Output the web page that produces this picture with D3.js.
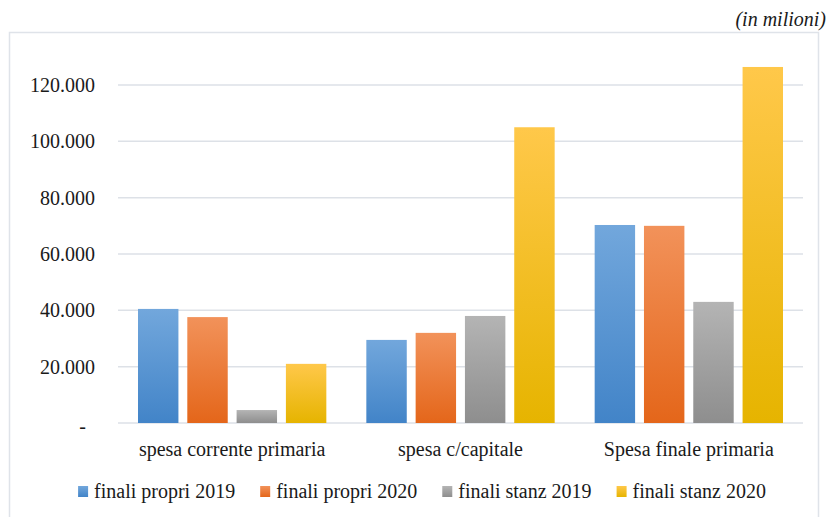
<!DOCTYPE html>
<html>
<head>
<meta charset="utf-8">
<script src="https://cdn.jsdelivr.net/npm/d3@7"></script>
<style>
  body { margin: 0; background: #fff; }
</style>
</head>
<body>
<div id="chart"></div>
<script>
// categorie e serie (valori in milioni)
var categorie = ["spesa corrente primaria", "spesa c/capitale", "Spesa finale primaria"];
var serie = ["finali propri 2019", "finali propri 2020", "finali stanz 2019", "finali stanz 2020"];
var propri2019 = [40500, 29500, 70300];
var propri2020 = [37600, 32000, 70000];
var stanz2019 = [4600, 38000, 43000];
var stanz2020 = [21000, 105000, 126400];
var yTicks = [0, 20000, 40000, 60000, 80000, 100000, 120000];

var valori = [propri2019, propri2020, stanz2019, stanz2020];
var colori = [
  ["#72a7dc", "#4284c8"],
  ["#f2925a", "#e4661a"],
  ["#b4b4b4", "#8e8e8e"],
  ["#ffc84a", "#e6b400"]
];

var FONT = "'Liberation Serif', 'Times New Roman', Times, 'DejaVu Serif', serif";

var width = 829, height = 517;
var margin = {top: 85, right: 26, bottom: 94, left: 118};

var svg = d3.select("#chart").append("svg")
  .attr("width", width)
  .attr("height", height)
  .style("font-family", FONT);

var defs = svg.append("defs");
colori.forEach(function(c, i) {
  var g = defs.append("linearGradient")
    .attr("id", "grad" + i)
    .attr("x1", 0).attr("y1", 0).attr("x2", 0).attr("y2", 1);
  g.append("stop").attr("offset", "0%").attr("stop-color", c[0]);
  g.append("stop").attr("offset", "100%").attr("stop-color", c[1]);
});

// cornice
svg.append("rect")
  .attr("x", 9.5).attr("y", 32.5)
  .attr("width", 809).attr("height", 500)
  .attr("fill", "none")
  .attr("stroke", "#dfe3e9")
  .attr("stroke-width", 1.5);

svg.append("text")
  .attr("x", 826).attr("y", 26)
  .attr("text-anchor", "end")
  .style("font-family", FONT)
  .style("font-style", "italic")
  .style("font-size", "20px")
  .attr("fill", "#1a1a1a")
  .text("(in milioni)");

var x0 = d3.scaleBand()
  .domain(categorie)
  .range([margin.left, width - margin.right]);

var x1 = d3.scaleBand()
  .domain(d3.range(serie.length))
  .range([20, x0.bandwidth() - 20])
  .paddingInner(0.18);

var y = d3.scaleLinear()
  .domain([0, 120000])
  .range([height - margin.bottom, margin.top]);

var loc = d3.formatLocale({decimal: ",", thousands: ".", grouping: [3], currency: ["", ""]});
var fmt = loc.format(",.0f");

// griglia
svg.append("g")
  .selectAll("line")
  .data(yTicks)
  .join("line")
    .attr("x1", margin.left)
    .attr("x2", width - margin.right)
    .attr("y1", function(d) { return y(d); })
    .attr("y2", function(d) { return y(d); })
    .attr("stroke", "#dde1e7")
    .attr("stroke-width", 1.5);

// asse y
var yAxis = svg.append("g")
  .attr("transform", "translate(95,0)")
  .call(d3.axisLeft(y).tickValues(yTicks).tickSize(0).tickPadding(0)
    .tickFormat(function(d) { return d === 0 ? "-" : fmt(d); }));
yAxis.attr("font-family", null).attr("font-size", null);
yAxis.select(".domain").remove();
yAxis.selectAll("text")
  .style("font-family", FONT)
  .style("font-size", "20px")
  .attr("fill", "#1a1a1a")
  .attr("dx", function(d) { return d === 0 ? "-9" : "0"; })
  .attr("dy", function(d) { return d === 0 ? "0.45em" : "0.33em"; });

// barre
var gruppi = svg.append("g")
  .selectAll("g")
  .data(categorie)
  .join("g")
    .attr("transform", function(d) { return "translate(" + x0(d) + ",0)"; });

gruppi.selectAll("rect")
  .data(function(d, ci) { return valori.map(function(v, si) { return {s: si, v: v[ci]}; }); })
  .join("rect")
    .attr("x", function(d) { return x1(d.s); })
    .attr("y", function(d) { return y(d.v); })
    .attr("width", x1.bandwidth())
    .attr("height", function(d) { return y(0) - y(d.v); })
    .attr("fill", function(d) { return "url(#grad" + d.s + ")"; });

// etichette categorie
svg.append("g")
  .selectAll("text")
  .data(categorie)
  .join("text")
    .attr("x", function(d) { return x0(d) + x0.bandwidth() / 2; })
    .attr("y", 456)
    .attr("text-anchor", "middle")
    .attr("fill", "#1a1a1a")
    .style("font-family", FONT)
    .style("font-size", "20px")
    .text(function(d) { return d; });

// legenda
var legenda = svg.append("g");
var items = legenda.selectAll("g")
  .data(serie)
  .join("g");
items.append("rect")
  .attr("y", 486)
  .attr("width", 10)
  .attr("height", 11)
  .attr("fill", function(d, i) { return "url(#grad" + i + ")"; });
items.append("text")
  .attr("x", 16)
  .attr("y", 498)
  .attr("fill", "#1a1a1a")
  .style("font-family", FONT)
  .style("font-size", "20px")
  .text(function(d) { return d; });

var pos = 0;
items.each(function() {
  var g = d3.select(this);
  g.attr("transform", "translate(" + pos + ",0)");
  pos += 16 + g.select("text").node().getComputedTextLength() + 25;
});
var totale = pos - 25;
legenda.attr("transform", "translate(" + (422 - totale / 2) + ",0)");
</script>
</body>
</html>
